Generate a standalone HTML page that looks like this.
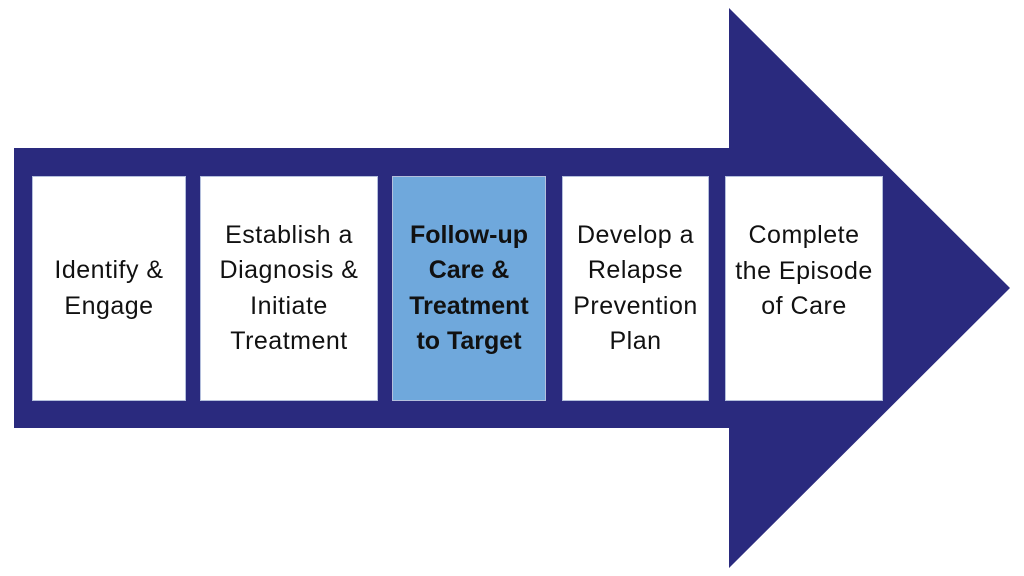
<!DOCTYPE html>
<html><head><style>
body{margin:0;width:1024px;height:576px;background:#fff;position:relative;overflow:hidden;font-family:"Liberation Sans",sans-serif}
.b{position:absolute;top:176px;height:225px;background:#fff;border:1px solid #b4bfdc;box-sizing:border-box;display:flex;flex-direction:column;align-items:center;justify-content:center;text-align:center;font-size:25px;letter-spacing:0.5px;line-height:35.5px;color:#111;white-space:nowrap}
</style></head><body>
<svg width="1024" height="576" style="position:absolute;left:0;top:0">
<polygon points="14,148 729,148 729,8 1010,288 729,568 729,428 14,428" fill="#2a2a7e"/>
</svg>
<div class="b" style="left:32px;width:154px">Identify &amp;<br>Engage</div>
<div class="b" style="left:200px;width:178px">Establish a<br>Diagnosis &amp;<br>Initiate<br>Treatment</div>
<div class="b" style="left:392px;width:154px;background:#6fa8dc;font-weight:bold;letter-spacing:0">Follow-up<br>Care &amp;<br>Treatment<br>to Target</div>
<div class="b" style="left:562px;width:147px">Develop a<br>Relapse<br>Prevention<br>Plan</div>
<div class="b" style="left:725px;width:158px;justify-content:flex-start;padding-top:41px">Complete<br>the Episode<br>of Care</div>
</body></html>
